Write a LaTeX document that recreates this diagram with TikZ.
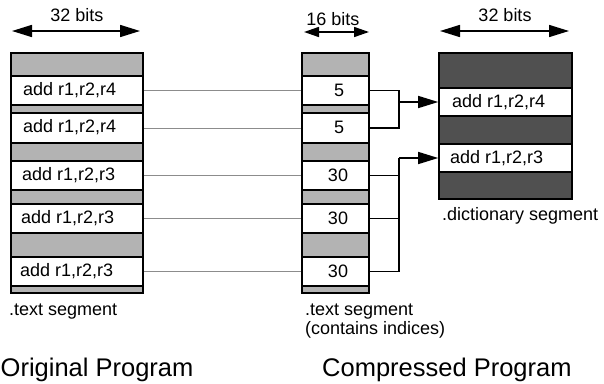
\documentclass[tikz,border=0pt]{standalone}
\usepackage{fontspec}
\setmainfont{Liberation Sans}
\usetikzlibrary{arrows.meta,calc}
\definecolor{lgray}{HTML}{B3B3B3}
\definecolor{dgray}{HTML}{505050}
\definecolor{cgray}{HTML}{8C8C8C}
\begin{document}
\begin{tikzpicture}[x=1pt,y=-1pt,font=\fontsize{18}{21}\selectfont]
\tikzset{
  colbg/.style={draw, line width=1.6pt, inner sep=0pt, minimum width=#1},
  wrow/.style={draw, fill=white, line width=1.6pt, inner sep=0pt, minimum width=#1},
  lbl/.style={inner sep=0pt, anchor=base west},
  num/.style={inner sep=0pt, anchor=base},
  dimarr/.style={line width=1.6pt, {Triangle[length=20pt,width=12pt]}-{Triangle[length=20pt,width=12pt]}},
  dimsmall/.style={line width=1.6pt, {Triangle[length=15pt,width=10pt]}-{Triangle[length=15pt,width=10pt]}},
  gline/.style={draw=cgray, line width=1pt},
  bline/.style={draw=black, line width=1.5pt},
  barrow/.style={draw=black, line width=1.5pt, -{Triangle[length=20pt,width=12pt]}},
  title/.style={inner sep=0pt, font=\fontsize{25.5}{30}\selectfont}
}
\useasboundingbox (0,0) rectangle (604,383);

% ---------- left column (original .text segment)
\node[colbg=132pt, fill=lgray, minimum height=240pt] (Lcol) at (77,173) {};
\node[wrow=132pt, minimum height=29pt] (L1) at (77,90.5) {};
\node[wrow=132pt, minimum height=30pt] (L2) at (77,128) {};
\node[wrow=132pt, minimum height=29pt] (L3) at (77,175.5) {};
\node[wrow=132pt, minimum height=29pt] (L4) at (77,218.5) {};
\node[wrow=132pt, minimum height=29pt] (L5) at (77,271.5) {};
\node[lbl] (tL1) at (23,95) {add r1,r2,r4};
\node[lbl] (tL2) at (23,132.5) {add r1,r2,r4};
\node[lbl] (tL3) at (22,180) {add r1,r2,r3};
\node[lbl] (tL4) at (21,223) {add r1,r2,r3};
\node[lbl] (tL5) at (20,276) {add r1,r2,r3};

% ---------- middle column (compressed .text segment)
\node[colbg=67pt, fill=lgray, minimum height=240pt] (Mcol) at (335.5,173) {};
\node[wrow=67pt, minimum height=29pt] (M1) at (335.5,90.5) {};
\node[wrow=67pt, minimum height=30pt] (M2) at (335.5,128) {};
\node[wrow=67pt, minimum height=29pt] (M3) at (335.5,175.5) {};
\node[wrow=67pt, minimum height=29pt] (M4) at (335.5,218.5) {};
\node[wrow=67pt, minimum height=29pt] (M5) at (335.5,271.5) {};
\node[num] (tM1) at (339,96) {5};
\node[num] (tM2) at (339,133.5) {5};
\node[num] (tM3) at (338,181) {30};
\node[num] (tM4) at (338,224) {30};
\node[num] (tM5) at (338,277) {30};

% ---------- dictionary
\node[colbg=133pt, fill=dgray, minimum height=146pt] (Dcol) at (505.5,126) {};
\node[wrow=133pt, minimum height=28pt] (D1) at (505.5,102) {};
\node[wrow=133pt, minimum height=28pt] (D2) at (505.5,158) {};
\node[lbl] (tD1) at (452,107) {add r1,r2,r4};
\node[lbl] (tD2) at (450,163) {add r1,r2,r3};

% ---------- width indicators
\node[num] (w1) at (77,21.5) {32 bits};
\node[num] (w2) at (333,25) {16 bits};
\node[num] (w3) at (505,21.5) {32 bits};
\coordinate (a1) at (12,31);  \coordinate (a2) at (140,31);
\coordinate (b1) at (304,32); \coordinate (b2) at (369,32);
\coordinate (c1) at (440,31); \coordinate (c2) at (569,31);
\draw[dimarr] (a1) -- (a2);
\draw[dimsmall] (b1) -- (b2);
\draw[dimarr] (c1) -- (c2);

% ---------- gray connectors
\foreach \i in {1,...,5} { \draw[gline] (L\i.east) -- (M\i.west); }

% ---------- index brackets
\coordinate (J1) at (399,102);
\coordinate (J2) at (399,158);
\draw[bline] (M1.east) -| (J1) |- (M2.east);
\draw[barrow] (J1) -- (J1 -| D1.west);
\draw[bline] (J2) |- (M5.east);
\draw[bline] (M3.east) -- (M3.east -| J2);
\draw[bline] (M4.east) -- (M4.east -| J2);
\draw[barrow] (J2) -- (J2 -| D2.west);

% ---------- captions
\node[lbl] (cL) at (9,315) {.text segment};
\node[lbl] (cM1) at (305,315) {.text segment};
\node[lbl] (cM2) at (305,334) {(contains indices)};
\node[lbl] (cD) at (442,220) {.dictionary segment};
\node[title, anchor=base west] (T1) at (0.5,376) {Original Program};
\node[title, anchor=base west] (T2) at (322,376) {Compressed Program};
\end{tikzpicture}
\end{document}
